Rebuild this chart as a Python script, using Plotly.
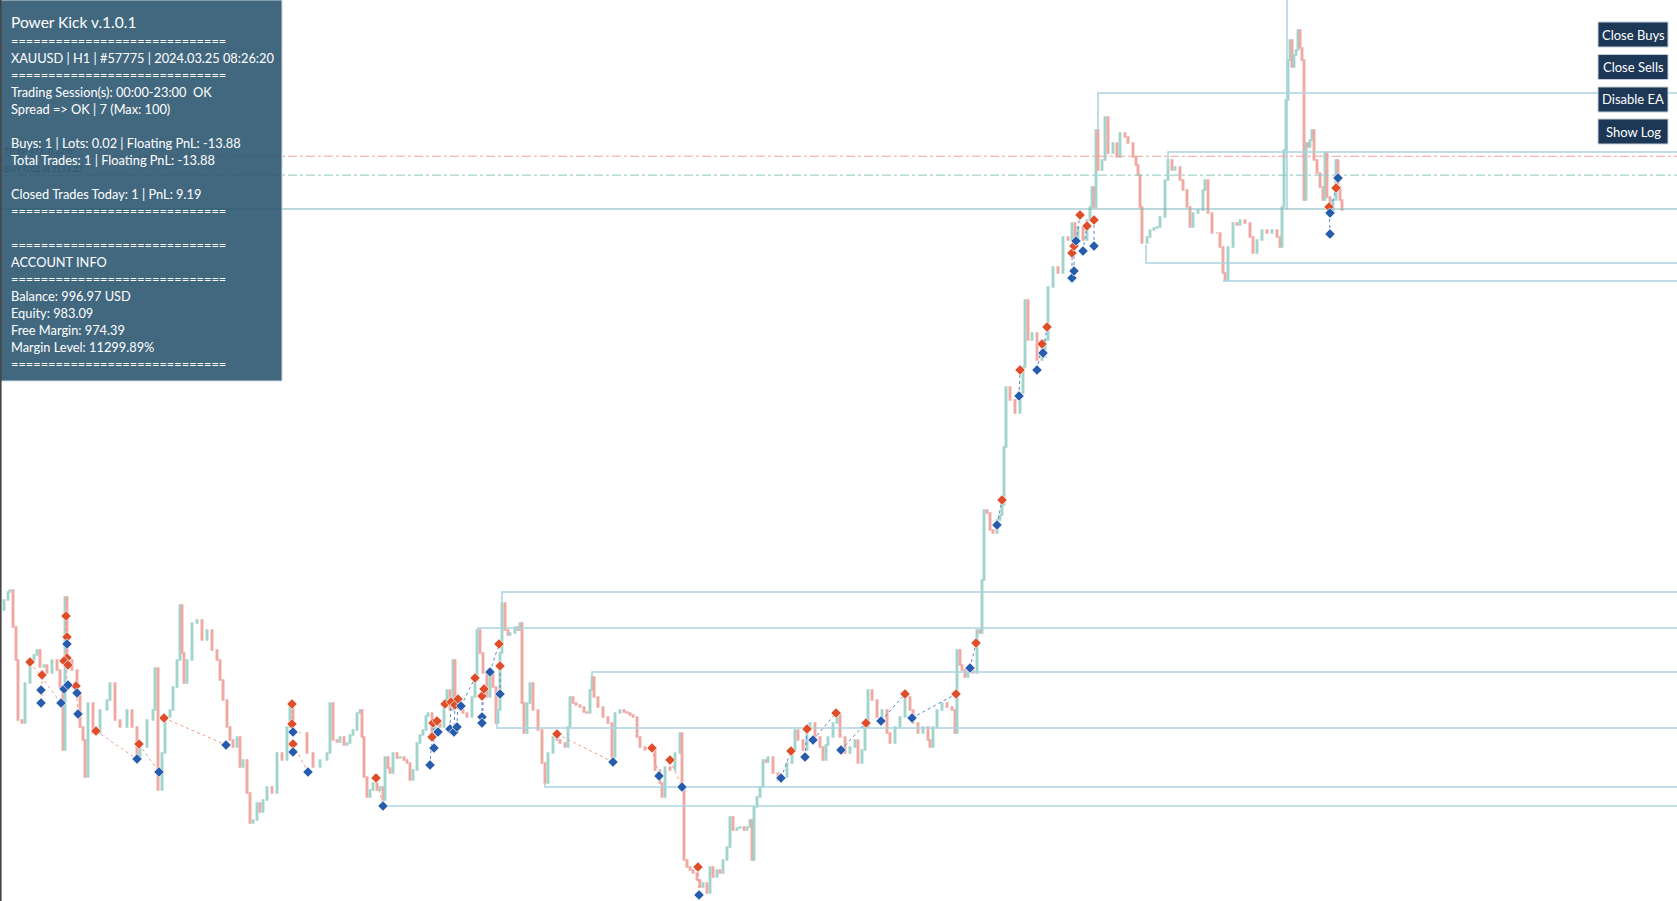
import plotly.graph_objects as go

# ---------------- price data (XAUUSD H1, closes) ----------------
bar_a = [0,4,8,10,13,16,18,22,25,30,34,37,40,44,47,52,57,60,63,65,67,72,77,80,83,85,88,93,100,107,
         110,115,120,127,132,137,140,147,153,155,158,162,165,170,173,177,180,182,184,187,192,197,202,207,212,217,220,223,227,230,
         233,237,240,243,247,250,253,257,260,263,267,272,277,282,287,290,293,300,307,313,320,327,330,333,337]
close_a = [2065.5,2068,2070,2070.5,2061.25,2053,2038,2037.25,2047.25,2053,
           2054.25,2055.5,2051.25,2051.75,2049.75,2053,2050.5,2046.25,2030.5,2068.75,
           2053,2050.5,2044.75,2036.25,2033,2023.75,2042.25,2034.75,2040.5,2043,
           2047.25,2038,2036.25,2040.5,2036.25,2028.75,2031.25,2038,2040.5,2051,
           2020.5,2029.75,2038.75,2040.5,2046.25,2053,2066.75,2054.75,2047.25,2053,
           2062.25,2063,2058,2060.5,2055.5,2053,2048,2043,2036.25,2033,
           2031.25,2033.75,2026.25,2028,2019.75,2012.25,2013,2017.25,2015,2018,
           2021.25,2019.75,2029.75,2028,2036.25,2041.75,2034.75,2034.75,2029.75,2026.25,
           2028,2029.75,2042.25,2033,2032.5]

bar_b = [340,344,347,350,353,357,360,362,364,367,370,373,377,380,383,385,388,390,393,397,
         400,404,407,410,413,417,420,423,426,428,432,435,440,444,447,450,453,455,457,460,
         463,467,472,475,477,480,483,487,490,493,496,498,500,502,505,508,510,515,518,520,
         522,524,527,530,533,538,542,545,548,553,557,560,565,568,570,573,576,580,584,587,
         590,592,594,598,603,608,612,615,620,624,627,630,633,637,640,645,650,655,660,662,
         665,670,675,680,682,684]
close_b = [2033.75,2031.75,2032.25,2034.25,2035.5,2039.75,2040.5,2033.75,2023.75,2018.75,
           2020.5,2022.25,2020.5,2021.25,2018,2028.75,2026,2024.75,2029.75,2028.5,
           2028.75,2028,2027.25,2023,2025.5,2032.25,2034.25,2035.5,2039,2039.75,
           2033.75,2038,2036.25,2041.75,2045.5,2040.5,2053,2043,2042.25,2040.5,
           2039.75,2038.75,2043.75,2048,2060.5,2054.75,2049.75,2043.75,2049.75,2046.25,
           2037.25,2040.5,2054.75,2067.25,2060.5,2059.25,2059.75,2061.25,2060.5,2062.25,
           2042.25,2034.75,2042.25,2047.25,2040.5,2035.5,2027.25,2022.25,2029.75,2033.75,
           2033,2032.25,2031.25,2036.25,2043.75,2042.25,2041.75,2041.25,2040,2039.75,
           2045.5,2048.75,2043.75,2041.25,2038.75,2037.25,2028.75,2039.75,2040.5,2040,
           2039.75,2039.25,2038.75,2033.75,2031.25,2030.5,2031.25,2025.5,2022.25,2018.75,
           2026.25,2025.5,2029.75,2034.75,2021.25,2003]

bar_c = [687,690,693,697,700,703,707,710,713,717,720,723,727,730,733,737,740,744,747,750,
         752,754,757,760,763,766,768,773,778,782,787,792,795,798,803,807,810,815,820,823,
         826,828,833,837,840,845,850,855,858,862,865,868,872,877,882,887,890,895,900,905,
         910,913,918,923,928,930,933,937,942,947,952,955,957,960,962,965,968,970,973,977,
         980,982,984]
close_c = [2001.25,2000.5,1999.75,1998,1996.25,1997.25,1994.75,2001.25,1998.75,2000.5,
           1999.75,2003,2006.25,2013.75,2010.5,2011,2011.25,2010.5,2011.25,2013,
           2003,2016.25,2018.75,2021.25,2028,2027.5,2028.75,2024.75,2023,2023.75,
           2027.25,2030.5,2035.5,2033,2030.5,2035.5,2037.25,2033.75,2031.25,2028,
           2031.75,2033.75,2037.25,2039.75,2033.75,2029.75,2031.25,2033,2027.25,2030.5,
           2036.25,2045.5,2043,2038.75,2040.5,2034.75,2032.25,2036.25,2038.75,2043.75,
           2040.5,2037.25,2034.75,2036.25,2033,2031.25,2036.25,2040.5,2042.25,2041.25,
           2040.5,2034.75,2055.5,2051.75,2050.5,2048.75,2050,2050.5,2049.75,2060.5,
           2059.75,2073,2090.5]

bar_d = [987,990,993,997,1000,1002,1004,1006,1010,1015,1020,1023,1025,1028,1032,1037,1042,1045,1048,1053,
         1058,1063,1068,1072,1075,1078,1083,1087,1090,1092,1094,1096,1098,1102,1105,1108,1113,1117,1120,1125,
         1128,1133,1136,1138,1140,1142,1147,1150,1154,1157,1160,1165,1168,1172,1175,1180,1183,1187,1190,1193,
         1198,1203,1205,1208,1212,1217,1220,1223,1225,1228,1233,1237,1240,1245,1250,1253,1257,1262,1267,1272,
         1277,1280,1282]
close_d = [2089.75,2085.5,2084.75,2088,2089.25,2091.75,2106.25,2121.25,2118,2114.75,
           2119.75,2126.25,2143,2133,2134.75,2128,2128.75,2133,2146.25,2151.25,
           2149.75,2158.75,2158,2162.25,2158,2161.25,2158,2163,2166.25,2171.25,
           2166.25,2185.5,2175.5,2178,2188.75,2179.75,2182.25,2178.75,2184.75,2183.75,
           2182.25,2178.75,2176.75,2174.25,2166.25,2157.25,2158.75,2160.5,2161,2161.25,
           2163.75,2173,2178,2175.5,2176.25,2173,2170.5,2166.25,2161.25,2164.75,
           2165.5,2170.5,2173,2164.75,2159.75,2159.75,2156.25,2149.75,2148,2156.25,
           2162.25,2161.75,2163,2162.25,2158.75,2154.75,2158,2160.5,2159.75,2160.5,
           2158.75,2156.25,2166.25]

bar_e = [1284,1286,1288,1290,1292,1294,1296,1298,1300,1302,1304,1306,1308,1310,1312,1314,1317,1320,1323,1325,
         1327,1330,1333,1336,1338,1340,1342]
close_e = [2180.5,2193,2203,2208,2201.25,2204.25,2205.5,2210.5,2206,2203,
           2168,2182.25,2181.25,2183,2185.5,2178,2174.75,2171.25,2168,2179.75,
           2168.75,2164.75,2168,2178,2171.25,2168,2165.5]

# ---------------- trade arrows ----------------
red_bar = [30,42,66,67,67,64,68,76,96,139,164,292,292,293,
           376,432,433,437,445,451,455,458,475,482,484,499,500,557,652,670,698,
           791,807,836,866,905,956,976,
           1002,1020,1042,1047,1072,1074,1080,1087,1094,1329,1336]
red_price = [2052.5,2049.25,2064,2058.75,2053.5,2052.75,2051.75,2046.5,2035.25,2032,2038.5,2042,2037,2032,
             2023.5,2033.75,2037.25,2037.75,2042,2042.5,2041.75,2043.25,2048.5,2044,2045.75,2057,2051.5,2034.5,2031,2028,2001.25,
             2030.25,2035.75,2039.75,2037.25,2044.5,2044.5,2057.25,
             2093,2125.5,2132,2136.25,2154.75,2156.5,2164.25,2161.5,2163,2166.25,2171]
blue_bar = [41,41,61,67,64,68,77,78,137,159,226,293,293,308,
            383,430,434,438,450,454,457,461,482,482,490,500,613,659,682,699,
            781,805,813,841,881,912,970,
            997,1019,1037,1043,1072,1074,1076,1083,1094,1330,1330,1338]
blue_price = [2045.5,2042.25,2042.25,2057,2045.75,2046.75,2044.75,2039.5,2028.25,2025,2031.75,2035,2030,2025,
              2016.5,2026.75,2031,2035,2035.75,2035,2036.25,2041.5,2038.75,2037.25,2050,2044.5,2027.5,2024,2021.25,1994.25,
              2023.5,2028.75,2033,2030.5,2037.75,2038.5,2051,
              2086.75,2119,2125.5,2129.75,2148.5,2150.25,2157.75,2155.25,2156.5,2164.75,2159.5,2173.5]

# trade connectors (dotted): sell trades (red) and buy trades (blue)
sell_from_bar = [30,42,66,76,96,139,164,292,293,376,557,652,670,698]
sell_from_p   = [2052.5,2049.25,2064,2046.5,2035.25,2032,2038.5,2042,2032,2023.5,2034.5,2031,2028,2001.25]
sell_to_bar   = [61,42,67,78,137,159,226,293,308,383,613,659,682,699]
sell_to_p     = [2042.25,2042.25,2045.75,2039.5,2028.25,2025,2031.75,2030,2025,2016.5,2027.5,2024,2021.25,1994.25]
buy_from_bar = [430,434,438,450,454,457,461,482,482,490,500,781,805,813,841,881,912,970,
                997,1019,1037,1043,1072,1074,1076,1083,1094,1330,1330]
buy_from_p   = [2026.75,2031,2035,2035.75,2035,2036.25,2041.5,2037.25,2038.75,2050,2044.5,2023.5,2028.75,2033,2030.5,2037.75,2038.5,2051,
                2086.75,2119,2125.5,2129.75,2148.5,2150.25,2157.75,2155.25,2156.5,2159.5,2164.75]
buy_to_bar   = [432,433,437,451,455,458,475,484,482,499,500,791,807,836,866,905,956,976,
                1002,1020,1042,1047,1072,1074,1080,1087,1094,1329,1336]
buy_to_p     = [2033.75,2037.25,2037.75,2042.5,2041.75,2043.25,2048.5,2045.75,2044,2057,2051.5,2030.25,2035.75,2039.75,2037.25,2044.5,2044.5,2057.25,
                2093,2125.5,2132,2136.25,2154.75,2156.5,2164.25,2161.5,2163,2166.25,2171]

# ---------------- support / resistance levels ----------------
level_start_bar = [502, 478, 592, 497, 545, 383, 1098, 1168, 1146, 1224, 1287]
level_price     = [2070, 2061, 2050, 2036, 2021.25, 2016.5, 2194.75, 2180, 2152.25, 2147.75, 2240]
level_anchor    = [2067.25, 2055.5, 2048.75, 2040.5, 2022.25, 2016.5, 2185.5, 2176.25, 2156.75, 2148, 2165.75]
bid_price = 2165.75
tp_price = 2178.94
entry_price = 2174.22

# ---------------- texts ----------------
SEP = "============================="
panel_lines = [
    SEP,
    "XAUUSD | H1 | #57775 | 2024.03.25 08:26:20",
    SEP,
    "Trading Session(s): 00:00-23:00  OK",
    "Spread => OK | 7 (Max: 100)",
    "",
    "Buys: 1 | Lots: 0.02 | Floating PnL: -13.88",
    "Total Trades: 1 | Floating PnL: -13.88",
    "",
    "Closed Trades Today: 1 | PnL: 9.19",
    SEP,
    "",
    SEP,
    "ACCOUNT INFO",
    SEP,
    "Balance: 996.97 USD",
    "Equity: 983.09",
    "Free Margin: 974.39",
    "Margin Level: 11299.89%",
    SEP,
]
panel_title = "Power Kick v.1.0.1"
button_labels = ["Close Buys", "Close Sells", "Disable EA", "Show Log"]

# ---------------- build ----------------
bars, closes = [], []
for b, c in [(bar_a, close_a), (bar_b, close_b), (bar_c, close_c), (bar_d, close_d), (bar_e, close_e)]:
    if len(b) != len(c):
        raise ValueError(f"length mismatch {len(b)} vs {len(c)}")
    bars += b
    closes += c
opens = [closes[0]] + closes[:-1]
highs = [max(o, c) for o, c in zip(opens, closes)]
lows = [min(o, c) for o, c in zip(opens, closes)]

W, H = 1677, 901
X_MAX = 1677
Y_MIN, Y_MAX = 1992.75, 2218.0

TEAL = "rgb(160,212,204)"
PINK = "rgb(240,168,162)"
LEVEL = "rgb(172,212,224)"

fig = go.Figure()

# level lines
lx, ly = [], []
for s, p, a in zip(level_start_bar, level_price, level_anchor):
    lx += [s, s, X_MAX, None]
    ly += [a, p, p, None]
fig.add_trace(go.Scatter(x=lx, y=ly, mode="lines", line=dict(color=LEVEL, width=1.6),
                         hoverinfo="skip", showlegend=False))
fig.add_trace(go.Scatter(x=[0, X_MAX], y=[bid_price, bid_price], mode="lines",
                         line=dict(color="rgb(120,178,184)", width=1), hoverinfo="skip", showlegend=False))
fig.add_trace(go.Scatter(x=[0, X_MAX], y=[tp_price, tp_price], mode="lines",
                         line=dict(color="rgb(240,160,160)", width=1, dash="dashdot"), hoverinfo="skip", showlegend=False))
fig.add_trace(go.Scatter(x=[0, X_MAX], y=[entry_price, entry_price], mode="lines",
                         line=dict(color="rgb(140,200,190)", width=1, dash="dashdot"), hoverinfo="skip", showlegend=False))

# candles
fig.add_trace(go.Candlestick(
    x=bars, open=opens, high=highs, low=lows, close=closes,
    increasing=dict(line=dict(color=TEAL, width=1.5), fillcolor=TEAL),
    decreasing=dict(line=dict(color=PINK, width=1.5), fillcolor=PINK),
    whiskerwidth=0, hoverinfo="none", showlegend=False))

# trade connectors
def seg(x0, y0, x1, y1):
    xs, ys = [], []
    for a, b, c, d in zip(x0, y0, x1, y1):
        xs += [a, c, None]
        ys += [b, d, None]
    return xs, ys

sx, sy = seg(sell_from_bar, sell_from_p, sell_to_bar, sell_to_p)
fig.add_trace(go.Scatter(x=sx, y=sy, mode="lines", line=dict(color="rgba(238,140,115,0.85)", width=1, dash="dot"),
                         hoverinfo="skip", showlegend=False))
bx, by = seg(buy_from_bar, buy_from_p, buy_to_bar, buy_to_p)
fig.add_trace(go.Scatter(x=bx, y=by, mode="lines", line=dict(color="rgba(70,110,200,0.85)", width=1, dash="dot"),
                         hoverinfo="skip", showlegend=False))

# arrows
fig.add_trace(go.Scatter(x=red_bar, y=red_price, mode="markers",
                         marker=dict(symbol="diamond", size=8, color="rgb(222,78,42)",
                                     line=dict(color="rgba(255,255,255,0.7)", width=1)),
                         hoverinfo="skip", showlegend=False))
fig.add_trace(go.Scatter(x=blue_bar, y=blue_price, mode="markers",
                         marker=dict(symbol="diamond", size=8, color="rgb(40,92,172)",
                                     line=dict(color="rgba(255,255,255,0.7)", width=1)),
                         hoverinfo="skip", showlegend=False))

# trade labels (behind the info panel)
fig.add_trace(go.Scatter(x=[4, 4], y=[tp_price + 1.2, entry_price + 1.2], mode="text",
                         text=["TP for 472, 0.22%", "BUY 0.02 at 2174.22"], textposition="middle right",
                         textfont=dict(family="Arial", size=8.5, color="rgb(70,70,70)"),
                         hoverinfo="skip", showlegend=False))

shapes = []
annotations = []
# info panel
shapes.append(dict(type="rect", xref="paper", yref="paper", x0=0, x1=282 / W, y0=1 - 381 / H, y1=1,
                   fillcolor="rgb(46,88,114)", opacity=0.9, line=dict(color="rgb(200,212,222)", width=1),
                   layer="above"))
# left border
shapes.append(dict(type="line", xref="paper", yref="paper", x0=0.6 / W, x1=0.6 / W, y0=0, y1=1,
                   line=dict(color="rgb(70,70,70)", width=2), layer="above"))

annotations.append(dict(xref="paper", yref="paper", x=9 / W, y=1 - 22 / H, xanchor="left", yanchor="middle",
                        text=panel_title, showarrow=False,
                        font=dict(family="Lato", size=15.5, color="white")))
row_y = [41, 58, 75, 92, 109, 126, 143, 160, 177, 194, 211, 228, 245, 262, 279, 296, 313, 330, 347, 364]
for t, yy in zip(panel_lines, row_y):
    if not t:
        continue
    annotations.append(dict(xref="paper", yref="paper", x=9 / W, y=1 - yy / H, xanchor="left", yanchor="middle",
                            text=t, showarrow=False, font=dict(family="Lato", size=12.8, color="white")))

# buttons
btn_top = [22, 54.5, 87, 119]
for lab, t in zip(button_labels, btn_top):
    shapes.append(dict(type="rect", xref="paper", yref="paper", x0=1598 / W, x1=1668 / W,
                       y0=1 - (t + 25) / H, y1=1 - t / H, fillcolor="rgb(28,56,86)",
                       line=dict(color="rgb(196,206,216)", width=1), layer="above"))
    annotations.append(dict(xref="paper", yref="paper", x=1633 / W, y=1 - (t + 12.5) / H,
                            xanchor="center", yanchor="middle", text=lab, showarrow=False,
                            font=dict(family="Lato", size=13, color="white")))

fig.update_layout(
    width=W, height=H, margin=dict(l=0, r=0, t=0, b=0),
    paper_bgcolor="white", plot_bgcolor="white",
    xaxis=dict(range=[0, X_MAX], visible=False, rangeslider=dict(visible=False), fixedrange=True),
    yaxis=dict(range=[Y_MIN, Y_MAX], visible=False, fixedrange=True),
    shapes=shapes, annotations=annotations, showlegend=False, boxgap=0,
    hovermode=False,
)

fig.write_html("out.html", config={"displayModeBar": False},
               post_script="document.body.style.margin='0';document.body.style.overflow='hidden';")
